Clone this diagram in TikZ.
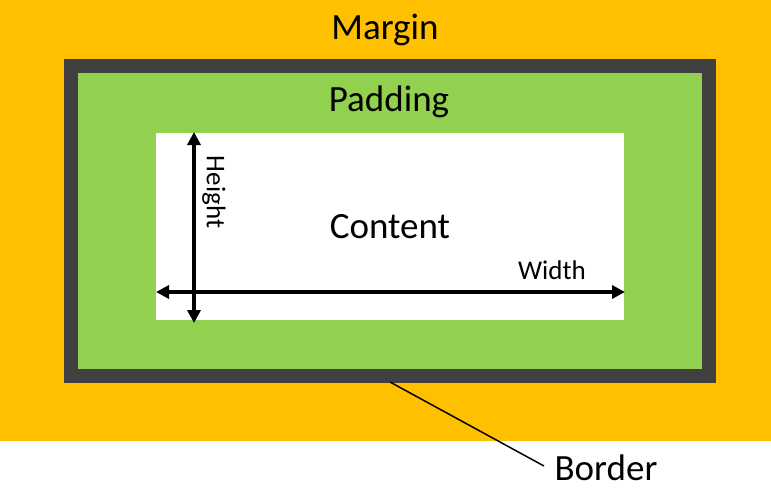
\documentclass[tikz,border=0pt]{standalone}
\usepackage{fontspec}
\setmainfont{Carlito}
\usetikzlibrary{arrows.meta}
\definecolor{marginc}{HTML}{FFC000}
\definecolor{padc}{HTML}{92D050}
\definecolor{borderc}{HTML}{404040}
\tikzset{
  biglabel/.style={inner sep=0pt, font=\fontsize{37}{40}\selectfont},
  smalllabel/.style={inner sep=0pt, font=\fontsize{27}{30}\selectfont},
  dimarrow/.style={line width=4pt, {Triangle[length=13pt,width=13pt]}-{Triangle[length=13pt,width=13pt]}, shorten <=0pt, shorten >=0pt},
  leader/.style={line width=1.5pt, black}
}
\begin{document}
\begin{tikzpicture}[x=1pt,y=-1pt]
\useasboundingbox (0,0) rectangle (771,488);
\fill[white] (0,0) rectangle (771,488);
\fill[marginc] (0,0) rectangle (771,441);
\fill[borderc] (64,59) rectangle (716,383);
\fill[padc] (78,73) rectangle (702,369);
\fill[white] (156,133) rectangle (624,320);
\node[biglabel] (margin) at (385,30) {Margin};
\node[biglabel] (padding) at (389,102) {Padding};
\node[biglabel] (content) at (390,227) {Content};
\node[biglabel, anchor=base, text depth=0pt] (border) at (606,480) {Border};
\node[smalllabel] (width) at (552,270) {Width};
\node[smalllabel, rotate=-90] (height) at (214,192) {Height};
\coordinate (hl) at (156,292);
\coordinate (hr) at (625,292);
\coordinate (vt) at (194,132);
\coordinate (vb) at (194,323);
\coordinate (bpt) at (390,382);
\coordinate (bend) at (544,466);
\draw[dimarrow] (hl) -- (hr);
\draw[dimarrow] (vt) -- (vb);
\draw[leader] (bpt) -- (bend);
\end{tikzpicture}
\end{document}
